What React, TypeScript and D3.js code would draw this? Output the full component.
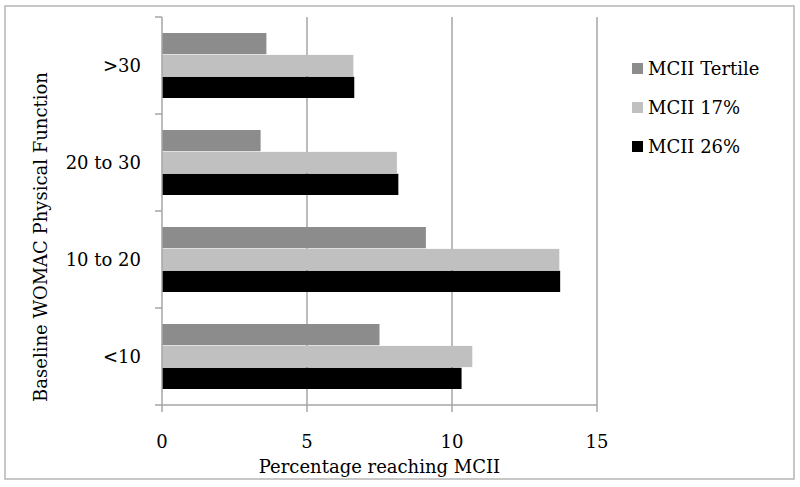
import React from "react";
import * as d3 from "d3";

const categories = [">30", "20 to 30", "10 to 20", "<10"];
const seriesNames = ["MCII Tertile", "MCII 17%", "MCII 26%"];
const tertile = [3.6, 3.4, 9.1, 7.5];
const mcii17 = [6.6, 8.1, 13.7, 10.7];
const mcii26 = [6.63, 8.15, 13.73, 10.33];
const xTicks = [0, 5, 10, 15];
const colors = ["#8c8c8c", "#c0c0c0", "#000000"];

const W = 800;
const H = 487;
const margin = { left: 162, right: 203, top: 17, bottom: 82 };
const FONT = "'DejaVu Serif', 'Liberation Serif', serif";
const FS = 18;

export default function App() {
  const series = [tertile, mcii17, mcii26];
  const x = d3.scaleLinear().domain([0, 15]).range([margin.left, W - margin.right]);
  const y = d3
    .scaleBand<string>()
    .domain(categories)
    .range([margin.top, H - margin.bottom])
    .paddingInner(0.33)
    .paddingOuter(0.165);
  const inner = d3
    .scaleBand<number>()
    .domain([0, 1, 2])
    .range([0, y.bandwidth()])
    .paddingInner(0.03);
  const y0 = margin.top;
  const y1 = H - margin.bottom;
  const bandStep = (y1 - y0) / categories.length;
  const axisColor = "#a6a6a6";

  return (
    <svg
      width={W}
      height={H}
      style={{ position: "absolute", left: 0, top: 0, background: "#fff" }}
      fontFamily={FONT}
    >
      <rect x={5} y={6} width={789} height={473} fill="#fff" stroke="#b5b5b5" strokeWidth={1.5} />
      {/* gridlines */}
      {xTicks.slice(1).map((t) => (
        <line key={t} x1={x(t)} x2={x(t)} y1={y0} y2={y1 + 7} stroke={axisColor} strokeWidth={1.5} />
      ))}
      {/* bars */}
      {categories.map((c, i) =>
        series.map((s, j) => (
          <rect
            key={c + j}
            x={x(0)}
            y={(y(c) as number) + (inner(j) as number)}
            width={x(s[i]) - x(0)}
            height={inner.bandwidth()}
            fill={colors[j]}
          />
        ))
      )}
      {/* axes */}
      <line x1={x(0)} x2={x(0)} y1={y0} y2={y1 + 7} stroke={axisColor} strokeWidth={1.5} />
      <line x1={x(0)} x2={x(15)} y1={y1} y2={y1} stroke={axisColor} strokeWidth={1.5} />
      {d3.range(categories.length + 1).map((k) => (
        <line
          key={k}
          x1={x(0) - 7}
          x2={x(0)}
          y1={y0 + k * bandStep}
          y2={y0 + k * bandStep}
          stroke={axisColor}
          strokeWidth={1.5}
        />
      ))}
      {xTicks.map((t) => (
        <text key={t} x={x(t)} y={448} textAnchor="middle" fontSize={FS} fill="#000">
          {t}
        </text>
      ))}
      {categories.map((c) => (
        <text
          key={c}
          x={141}
          y={(y(c) as number) + y.bandwidth() / 2}
          dy="0.35em"
          textAnchor="end"
          fontSize={FS}
          fill="#000"
        >
          {c}
        </text>
      ))}
      <text x={(x(0) + x(15)) / 2} y={473} textAnchor="middle" fontSize={FS} fill="#000">
        Percentage reaching MCII
      </text>
      <text
        transform={`translate(47, 237) rotate(-90)`}
        textAnchor="middle"
        fontSize={FS}
        fill="#000"
      >
        Baseline WOMAC Physical Function
      </text>
      {/* legend */}
      {seriesNames.map((n, j) => (
        <g key={n} transform={`translate(632, ${63 + j * 39})`}>
          <rect x={0} y={0} width={11} height={11} fill={colors[j]} />
          <text x={16} y={5.5} dy="0.35em" fontSize={FS} fill="#000">
            {n}
          </text>
        </g>
      ))}
    </svg>
  );
}
